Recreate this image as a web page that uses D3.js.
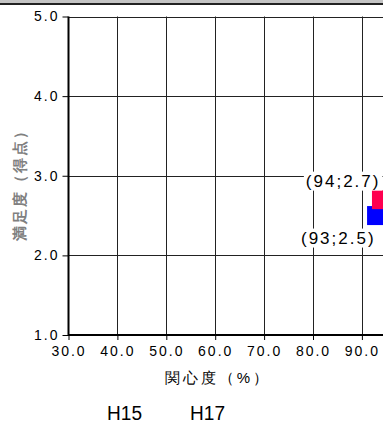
<!DOCTYPE html>
<html>
<head>
<meta charset="utf-8">
<title>関心度と満足度</title>
<style>
    body { margin: 0; background: #fff; }
    svg { display: block; font-family: Arial, "Liberation Sans", sans-serif; }
    .tick text { font-size: 14px; letter-spacing: 2px; fill: #000; }
    .grid line { stroke: #222; stroke-width: 1; }
</style>
</head>
<body>
<script src="https://cdn.jsdelivr.net/npm/d3@7"></script>
<script>
    // 年度（凡例）
    var years = ["H15", "H17"];
    // 関心度（%）
    var interest = [93, 94];
    // 満足度（得点）
    var satisfaction = [2.5, 2.7];
    var colors = ["#0000ff", "#ff0050"];
    // 目盛り
    var xTicks = [30, 40, 50, 60, 70, 80, 90];
    var yTicks = [1, 2, 3, 4, 5];

    var width = 383, height = 426;
    var margin = {top: 16, left: 68, bottom: 91};

    var svg = d3.select("body").append("svg")
        .attr("width", width)
        .attr("height", height);

    // 上の枠
    svg.append("rect").attr("x", 0).attr("y", 0).attr("width", width).attr("height", 3).attr("fill", "#c4c4c4");
    svg.append("rect").attr("x", 0).attr("y", 3).attr("width", width).attr("height", 2).attr("fill", "#222");

    var x = d3.scaleLinear().domain([30, 100]).range([margin.left + 0.5, margin.left + 0.5 + 7 * 48.9]);
    var y = d3.scaleLinear().domain([1, 5]).range([height - margin.bottom, margin.top + 0.5]);

    // グリッド
    var grid = svg.append("g").attr("class", "grid");
    grid.selectAll(".v").data(xTicks.slice(1)).enter().append("line")
        .attr("x1", function(d){ return Math.round(x(d)) + 0.5; })
        .attr("x2", function(d){ return Math.round(x(d)) + 0.5; })
        .attr("y1", y(5)).attr("y2", y(1));
    grid.selectAll(".h").data(yTicks.slice(1)).enter().append("line")
        .attr("x1", x(30)).attr("x2", width)
        .attr("y1", function(d){ return Math.round(y(d)) + 0.5; })
        .attr("y2", function(d){ return Math.round(y(d)) + 0.5; });

    // 軸
    var xAxis = svg.append("g")
        .attr("transform", "translate(0," + y(1) + ")")
        .call(d3.axisBottom(x).tickValues(xTicks).tickSize(5).tickPadding(3).tickFormat(d3.format(".1f")));
    xAxis.select(".domain").remove();
    xAxis.selectAll(".tick line").attr("stroke", "#000");
    xAxis.selectAll(".tick text").attr("dy", "0.9em");

    var yAxis = svg.append("g")
        .attr("transform", "translate(" + x(30) + ",0)")
        .call(d3.axisLeft(y).tickValues(yTicks).tickSize(6).tickPadding(3).tickFormat(d3.format(".1f")));
    yAxis.select(".domain").remove();
    yAxis.selectAll(".tick line").attr("stroke", "#000");

    svg.append("line").attr("x1", x(30)).attr("x2", width)
        .attr("y1", y(1)).attr("y2", y(1)).attr("stroke", "#000").attr("stroke-width", 2);
    svg.append("line").attr("x1", x(30)).attr("x2", x(30))
        .attr("y1", y(5)).attr("y2", y(1) + 1).attr("stroke", "#000").attr("stroke-width", 2);

    // 軸タイトル
    svg.append("text")
        .attr("x", 218).attr("y", 383)
        .attr("text-anchor", "middle")
        .style("font-size", "15px").style("letter-spacing", "3px")
        .text("関心度（%）");
    svg.append("text")
        .attr("transform", "translate(25,181) rotate(-90)")
        .attr("text-anchor", "middle")
        .style("font-size", "15px").style("letter-spacing", "2px")
        .style("font-weight", "bold")
        .attr("fill", "#808080")
        .text("満足度（得点）");

    // 点
    var points = years.map(function(yr, i){
        return {year: yr, x: interest[i], y: satisfaction[i], color: colors[i]};
    });
    var size = 19;
    svg.selectAll(".pt").data(points).enter().append("rect")
        .attr("x", function(d){ return x(d.x) - size / 2; })
        .attr("y", function(d){ return y(d.y) - size / 2; })
        .attr("width", size).attr("height", size)
        .attr("fill", function(d){ return d.color; });

    // ラベル（上の点は上に、下の点は下に）
    var maxY = d3.max(points, function(d){ return d.y; });
    var labels = svg.selectAll(".lbl").data(points).enter().append("g");
    labels.each(function(d){
        var g = d3.select(this);
        var above = d.y === maxY;
        var t = g.append("text")
            .attr("x", x(d.x) - 1)
            .attr("y", above ? y(d.y) - 13 : y(d.y) + 28)
            .attr("text-anchor", "end")
            .style("font-size", "17px").style("letter-spacing", "2px")
            .text("(" + d.x + ";" + d.y.toFixed(1) + ")");
        var b = t.node().getBBox();
        g.insert("rect", "text")
            .attr("x", b.x - 2).attr("y", b.y)
            .attr("width", b.width + 4).attr("height", b.height)
            .attr("fill", "#fff");
    });

    // 凡例
    svg.selectAll(".leg").data(years).enter().append("text")
        .attr("x", function(d, i){ return 107 + i * 83; })
        .attr("y", 420)
        .attr("textLength", 35)
        .attr("lengthAdjust", "spacingAndGlyphs")
        .style("font-size", "20px")
        .text(function(d){ return d; });
</script>
</body>
</html>
